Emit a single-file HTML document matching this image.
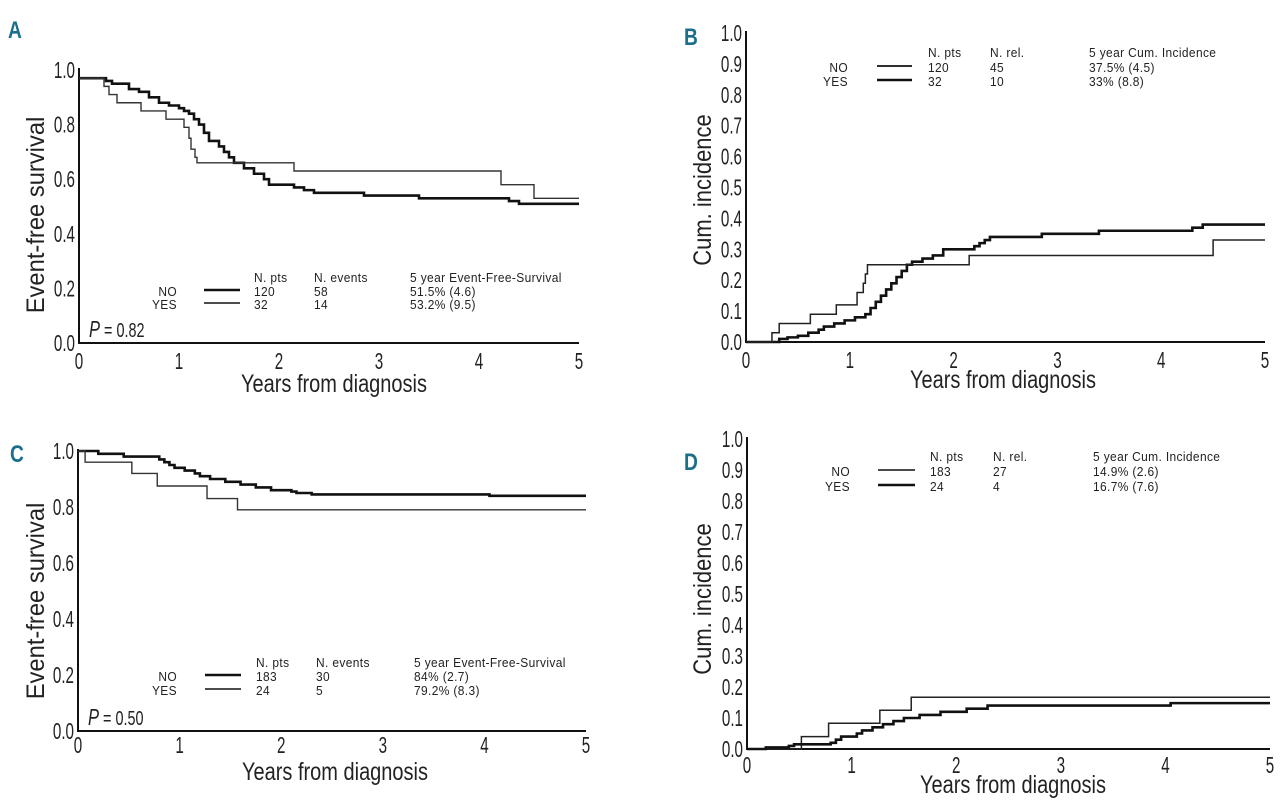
<!DOCTYPE html>
<html><head><meta charset="utf-8"><style>
html,body{margin:0;padding:0;background:#fff;}
svg{display:block;}
text{font-family:"Liberation Sans",sans-serif;fill:#222;}
.tick{font-size:23px;}
.ttl{font-size:25px;}
.leg{font-size:13px;letter-spacing:0.4px;}
.let{font-family:"Liberation Sans",sans-serif;font-weight:bold;font-size:24px;fill:#1c6f8c;}
</style></head><body>
<svg id="fig" width="1280" height="809" viewBox="0 0 1280 809"></svg>
<script>
// Panel A data (Event-free survival)
const aNoT=[0,0.27,0.33,0.5,0.6,0.7,0.8,0.9,1.0,1.05,1.1,1.15,1.2,1.25,1.3,1.4,1.45,1.5,1.55,1.65,1.75,1.85,1.9,2.15,2.25,2.35,2.85,3.4,4.3,4.4];
const aNoV=[0.97,0.96,0.95,0.93,0.92,0.9,0.88,0.87,0.86,0.85,0.84,0.82,0.8,0.77,0.74,0.72,0.7,0.68,0.66,0.64,0.62,0.6,0.58,0.57,0.56,0.55,0.54,0.53,0.52,0.51];
const aYesT=[0,0.25,0.3,0.38,0.62,0.87,1.05,1.1,1.12,1.16,1.18,2.15,4.22,4.55];
const aYesV=[0.97,0.94,0.91,0.88,0.85,0.82,0.79,0.75,0.71,0.68,0.66,0.63,0.58,0.53];
// Panel B data (Cum. incidence)
const bNoT=[0,0.32,0.4,0.5,0.6,0.7,0.75,0.85,0.95,1.05,1.15,1.2,1.25,1.3,1.35,1.4,1.45,1.5,1.55,1.6,1.7,1.8,1.9,2.2,2.25,2.3,2.35,2.85,3.4,4.3,4.4];
const bNoV=[0,0.01,0.015,0.02,0.03,0.04,0.05,0.06,0.07,0.08,0.09,0.11,0.13,0.15,0.17,0.19,0.21,0.23,0.25,0.26,0.27,0.28,0.3,0.31,0.32,0.33,0.34,0.35,0.36,0.37,0.38];
const bYesT=[0,0.25,0.32,0.62,0.87,1.07,1.13,1.15,1.17,2.15,4.5];
const bYesV=[0,0.03,0.06,0.09,0.12,0.16,0.19,0.22,0.25,0.28,0.33];
// Panel C data
const cNoT=[0,0.2,0.45,0.8,0.85,0.9,0.95,1.05,1.15,1.2,1.3,1.45,1.6,1.75,1.9,2.1,2.15,2.3,4.05];
const cNoV=[1.0,0.99,0.98,0.97,0.96,0.95,0.94,0.93,0.92,0.91,0.9,0.89,0.88,0.87,0.86,0.855,0.85,0.845,0.84];
const cYesT=[0,0.07,0.53,0.78,1.27,1.57];
const cYesV=[1.0,0.96,0.92,0.875,0.83,0.79];
// Panel D data
const dThinT=[0,0.52,0.78,1.27,1.57];
const dThinV=[0,0.04,0.083,0.125,0.167];
const dThickT=[0,0.18,0.4,0.45,0.8,0.85,0.9,1.05,1.1,1.2,1.3,1.4,1.5,1.65,1.85,2.1,2.3,4.05];
const dThickV=[0,0.005,0.01,0.015,0.02,0.03,0.04,0.05,0.06,0.07,0.08,0.09,0.1,0.11,0.12,0.13,0.14,0.148];
// Tick labels
const xTicks=[0,1,2,3,4,5];
const yTicksA=[0,0.2,0.4,0.6,0.8,1.0];
const yTicksB=[0,0.1,0.2,0.3,0.4,0.5,0.6,0.7,0.8,0.9,1.0];
const legA=[["NO","120","58","51.5% (4.6)"],["YES","32","14","53.2% (9.5)"]];
const legB=[["NO","120","45","37.5% (4.5)"],["YES","32","10","33% (8.8)"]];
const legC=[["NO","183","30","84% (2.7)"],["YES","24","5","79.2% (8.3)"]];
const legD=[["NO","183","27","14.9% (2.6)"],["YES","24","4","16.7% (7.6)"]];

const NS="http://www.w3.org/2000/svg";
const svg=document.getElementById('fig');
function mk(tag,attrs,parent,txt){const e=document.createElementNS(NS,tag);for(const k in attrs)e.setAttribute(k,attrs[k]);if(txt!==undefined)e.textContent=txt;(parent||svg).appendChild(e);return e;}
function tx(parent,x,y,cls,anchor,s,str,rot){
  const tr=rot?`translate(${x},${y}) rotate(-90) scale(${s},1)`:`translate(${x},${y}) scale(${s},1)`;
  return mk('text',{x:0,y:0,class:cls,'text-anchor':anchor,transform:tr},parent,str);
}

function panel(P){
  const g=mk('g',{});
  
  
  const sx=v=>P.x0+(P.x5-P.x0)*v/5;
  const sy=v=>P.y0-(P.y0-P.y1)*v;
  const lt=tx(g,P.lx,P.ly,'let','start',0.8,P.letter);
  
  
  const ax=mk('path',{d:`M${P.x0} ${P.y1-2} V${P.y0} H${P.x5}`,stroke:'#111','stroke-width':2,fill:'none'},g);
  
  
  P.yt.forEach(v=>{
    const t=tx(g,P.x0-4,sy(v)+8,'tick','end',0.66,v.toFixed(1));
    
    
  });
  xTicks.forEach(v=>{
    const t=tx(g,sx(v),P.xly,'tick','middle',0.66,String(v));
    
    
  });
  const xt=tx(g,P.xtx,P.xty,'ttl','middle',0.8,'Years from diagnosis');
  
  
  const yt=tx(g,P.ytx,P.yty,'ttl','middle',P.yts,P.ytitle,true);
  
  
  P.series.forEach(s=>{
    let d=`M${sx(s.t[0])} ${sy(s.v[0])}`;
    for(let i=1;i<s.t.length;i++){d+=` H${sx(s.t[i])} V${sy(s.v[i])}`;}
    d+=` H${sx(5)}`;
    const p=mk('path',{d:d,stroke:s.c,'stroke-width':s.w,fill:'none'},g);
    
    
  });
  const L=P.leg;
  const hdr=[[L.c1,'N. pts'],[L.c2,P.h2],[L.c3,P.h3]];
  hdr.forEach(h=>{
    const t=tx(g,h[0],L.hy,'leg','start',0.92,h[1]);
    
    
  });
  P.rows.forEach((r,i)=>{
    const y=L.ry[i];
    const lab=tx(g,L.nr,y,'leg','end',0.92,r[0]);
    
    
    const ln=mk('line',{x1:L.l1,x2:L.l2,y1:y-6,y2:y-6,stroke:'#111','stroke-width':L.lw[i]},g);
    
    
    [L.c1,L.c2,L.c3].forEach((cx,j)=>{
      const t=tx(g,cx,y,'leg','start',0.92,r[j+1]);
      
      
    });
  });
  if(P.pval){
    const t=mk('text',{x:0,y:0,class:'tick',transform:`translate(${P.x0+10},${P.y0-6}) scale(0.72,1)`},g);
    
    
    mk('tspan',{'font-style':'italic'},t,'P');
    mk('tspan',{'font-size':'20'},t,' = '+P.pval);
  }
}

panel({name:'panel-a',letter:'A',lx:8,ly:38,x0:79,x5:579,y0:343,y1:70,yt:yTicksA,xly:369,xtx:334,xty:392,ytx:44,yty:215,yts:0.95,ytitle:'Event-free survival',
  series:[{name:'curve-no',t:aNoT,v:aNoV,c:'#111',w:2.6},{name:'curve-yes',t:aYesT,v:aYesV,c:'#333',w:1.4}],
  h2:'N. events',h3:'5 year Event-Free-Survival',rows:legA,pval:'0.82',
  leg:{hy:282,ry:[296,309],nr:177,l1:204,l2:240,lw:[2.6,1.4],c1:254,c2:314,c3:410}});
panel({name:'panel-b',letter:'B',lx:684,ly:45,x0:746,x5:1265,y0:342,y1:33,yt:yTicksB,xly:368,xtx:1003,xty:388,ytx:711,yty:190,yts:0.88,ytitle:'Cum. incidence',
  series:[{name:'curve-no',t:bNoT,v:bNoV,c:'#111',w:2.6},{name:'curve-yes',t:bYesT,v:bYesV,c:'#222',w:1.5}],
  h2:'N. rel.',h3:'5 year Cum. Incidence',rows:legB,pval:null,
  leg:{hy:57,ry:[72,86],nr:848,l1:877,l2:912,lw:[1.8,2.4],c1:928,c2:990,c3:1089}});
panel({name:'panel-c',letter:'C',lx:10,ly:462,x0:78,x5:586,y0:731,y1:451,yt:yTicksA,xly:753,xtx:335,xty:780,ytx:44,yty:601,yts:0.95,ytitle:'Event-free survival',
  series:[{name:'curve-no',t:cNoT,v:cNoV,c:'#111',w:2.6},{name:'curve-yes',t:cYesT,v:cYesV,c:'#333',w:1.4}],
  h2:'N. events',h3:'5 year Event-Free-Survival',rows:legC,pval:'0.50',
  leg:{hy:667,ry:[681,695],nr:177,l1:205,l2:241,lw:[2.6,1.4],c1:256,c2:316,c3:414}});
panel({name:'panel-d',letter:'D',lx:684,ly:470,x0:747,x5:1270,y0:749,y1:439,yt:yTicksB,xly:773,xtx:1013,xty:793,ytx:711,yty:599,yts:0.88,ytitle:'Cum. incidence',
  series:[{name:'curve-yes',t:dThinT,v:dThinV,c:'#222',w:1.5},{name:'curve-no',t:dThickT,v:dThickV,c:'#111',w:2.6}],
  h2:'N. rel.',h3:'5 year Cum. Incidence',rows:legD,pval:null,
  leg:{hy:461,ry:[476,491],nr:850,l1:878,l2:915,lw:[1.4,2.6],c1:930,c2:993,c3:1093}});
</script>
</body></html>
